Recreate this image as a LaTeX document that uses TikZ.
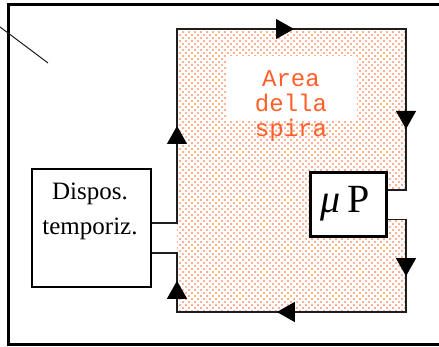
\documentclass[tikz,border=0pt]{standalone}
\usepackage{fontspec}
\setmainfont{Liberation Serif}
\newfontfamily\spirafont{Liberation Mono}
\usetikzlibrary{arrows.meta,decorations.markings,patterns}

\definecolor{spiraorange}{RGB}{255,95,40}
\definecolor{wiregray}{RGB}{30,30,30}

% staggered dot raster for the loop area
\pgfdeclarepatternformonly{spiradots}{\pgfqpoint{-1pt}{-1pt}}{\pgfqpoint{5pt}{5pt}}{\pgfqpoint{6pt}{6pt}}{%
  \pgfpathcircle{\pgfqpoint{0pt}{0pt}}{0.8pt}%
  \pgfpathcircle{\pgfqpoint{3pt}{3pt}}{0.8pt}%
  \pgfusepath{fill}}

\newcommand\flowarrow{\arrow[black]{Triangle[length=18pt,width=20pt]}}

\begin{document}
\begin{tikzpicture}[x=1pt,y=-1pt,
  frame/.style={line width=3pt, draw=black},
  block/.style={draw, line width=2pt, fill=white, inner sep=0pt},
  wire/.style={line width=1.1pt, draw=wiregray, line join=miter},
  labeltext/.style={anchor=base, inner sep=0pt, font=\fontsize{25}{30}\selectfont},
  areatext/.style={anchor=base, inner sep=0pt, text=spiraorange, font=\spirafont\fontsize{24}{25}\selectfont},
]
\useasboundingbox (0,0) rectangle (439,347);

% dotted loop area
\fill[pattern=spiradots, pattern color=spiraorange]
  (177,29) -- (406,29) -- (406,190) -- (386,190) -- (386,219.5) -- (406,219.5)
  -- (406,312) -- (177,312) -- cycle;
\fill[white] (227,56) rectangle (357,120);

% label of the area
\node[areatext] (areaA) at (291,87) {Area};
\node[areatext] (areaB) at (291,112) {della};
\node[areatext] (areaC) at (291,137) {spira};

% outer frame and slanted stroke
\draw[frame] (439,5) -- (8,5) -- (8,344) -- (439,344);
\draw[line width=1pt, draw=wiregray] (0,27) -- (48,63);

% blocks
\node[block, minimum width=119pt, minimum height=118pt] (disp) at (91.5,228) {};
\node[labeltext] (dispA) at (90,200) {Dispos.};
\node[labeltext] (dispB) at (90,235) {temporiz.};

\node[block, line width=2.3pt, minimum width=76pt, minimum height=64pt] (mup) at (348.5,204.5) {};
\node[anchor=base, inner sep=0pt, font=\fontsize{40}{44}\selectfont] (mupText) at (345,213) {{\itshape μ}\,P};

% current loop
\draw[wire, decoration={markings,
    mark=at position 122pt with {\flowarrow},
    mark=at position 336pt with {\flowarrow},
    mark=at position 548pt with {\flowarrow}}, postaction={decorate}]
  ([yshift=5pt]disp.east) -| (177,29) -- (406,29) |- ([yshift=14.5pt]mup.east);
\draw[wire, decoration={markings,
    mark=at position 75pt with {\flowarrow},
    mark=at position 240pt with {\flowarrow},
    mark=at position 371pt with {\flowarrow}}, postaction={decorate}]
  ([yshift=-15pt]mup.east) -| (406,312) -- (177,312) |- ([yshift=-25pt]disp.east);
\end{tikzpicture}
\end{document}
